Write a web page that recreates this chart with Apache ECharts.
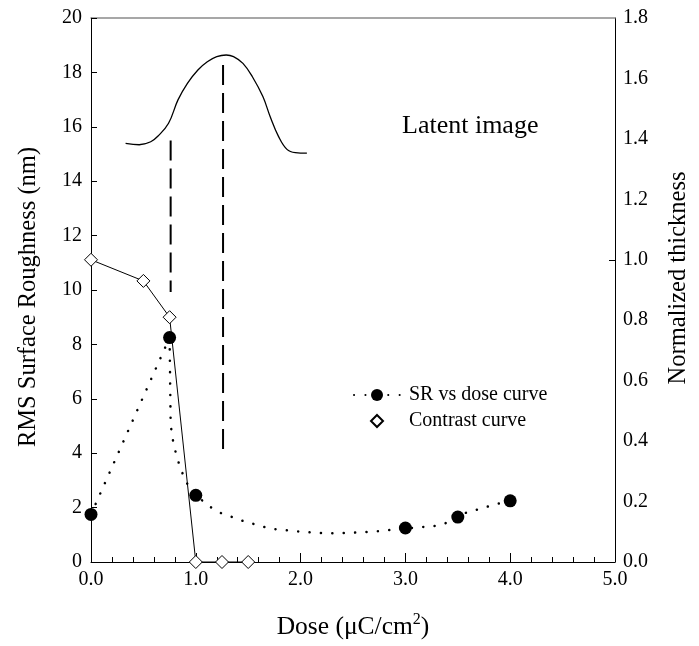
<!DOCTYPE html>
<html>
<head>
<meta charset="utf-8">
<script src="https://cdn.jsdelivr.net/npm/echarts@6/dist/echarts.min.js"></script>
<style>html,body{margin:0;padding:0;background:#fff}#c{width:699px;height:646px}</style>
</head>
<body>
<div id="c"></div>
<script>
// Measured surface roughness (left axis, nm)
var srDose = [0.0, 0.75, 1.0, 3.0, 3.5, 4.0];
var srValue = [1.75, 8.25, 2.45, 1.25, 1.65, 2.25];
// Dotted guide curve through SR data
var fitDose = [0.0, 0.75, 0.76, 0.77, 0.79, 0.82, 0.85, 0.89, 0.95, 1.0, 1.14, 1.24, 1.35, 1.45, 1.55, 1.65, 1.75, 1.85, 1.96, 2.06, 2.15, 2.25, 2.36, 2.46, 2.56, 2.66, 2.76, 2.86, 3.0, 3.06, 3.17, 3.27, 3.37, 3.5, 3.57, 3.67, 3.77, 3.87, 4.0];
var fitValue = [1.75, 8.25, 5.1, 4.74, 4.3, 3.86, 3.49, 3.09, 2.65, 2.45, 2.02, 1.80, 1.65, 1.51, 1.40, 1.29, 1.21, 1.17, 1.13, 1.10, 1.07, 1.06, 1.06, 1.07, 1.09, 1.11, 1.14, 1.18, 1.25, 1.25, 1.29, 1.32, 1.40, 1.65, 1.80, 1.91, 2.02, 2.13, 2.25];
// Contrast curve (right axis, normalized thickness)
var contrastDose = [0.0, 0.5, 0.75, 1.0, 1.25, 1.5];
var contrastThickness = [1.0, 0.93, 0.81, 0.0, 0.0, 0.0];
// Latent image profile (drawn in left-axis units)
var latentDose = [0.33, 0.46, 0.57, 0.64, 0.74, 0.83, 0.92, 1.02, 1.11, 1.20, 1.29, 1.36, 1.45, 1.54, 1.64, 1.71, 1.79, 1.87, 1.95, 2.06];
var latentValue = [15.39, 15.34, 15.45, 15.66, 16.13, 16.99, 17.6, 18.09, 18.39, 18.58, 18.64, 18.58, 18.33, 17.84, 17.11, 16.37, 15.64, 15.17, 15.05, 15.03];
// Dashed vertical markers
var dash1Dose = [0.76, 0.76];
var dash1Value = [15.5, 9.93];
var dash2Dose = [1.26, 1.26];
var dash2Value = [18.27, 4.06];
// Axis ticks
var xTicks = [0, 5, 1];
var yLeftTicks = [0, 20, 2];
var yRightTicks = [0, 1.8, 0.2];

function pairs(xs, ys) { return xs.map(function (x, i) { return [x, ys[i]]; }); }

var FONT = 'Liberation Serif';
var chart = echarts.init(document.getElementById('c'), null, { renderer: 'canvas' });
chart.setOption({
  animation: false,
  backgroundColor: '#fff',
  textStyle: { fontFamily: FONT, color: '#000' },
  grid: { left: 91, right: 71, top: 18, bottom: 84 },
  legend: {
    orient: 'vertical', left: 348, top: 380, itemWidth: 46, itemHeight: 15, itemGap: 6,
    selectedMode: false,
    textStyle: { fontFamily: FONT, fontSize: 20, color: '#000', padding: [0, 0, 0, 4] },
    data: [
      { name: 'SR vs dose curve' },
      { name: 'Contrast curve', lineStyle: { opacity: 0 } }
    ]
  },
  graphic: [{
    type: 'text', left: 402, top: 113,
    style: { text: 'Latent image', font: '26px "Liberation Serif"', fill: '#000' }
  }],
  xAxis: [{
    type: 'value', position: 'bottom', min: xTicks[0], max: xTicks[1], interval: xTicks[2],
    axisLine: { onZero: false, lineStyle: { color: '#000', width: 1 } },
    axisTick: { inside: true, length: 9, lineStyle: { color: '#000' } },
    minorTick: { show: true, splitNumber: 5, length: 5, lineStyle: { color: '#000' } },
    splitLine: { show: false }, minorSplitLine: { show: false },
    axisLabel: { formatter: function (v) { return v.toFixed(1); }, fontFamily: FONT, fontSize: 20, color: '#000', margin: 8 },
    name: 'Dose (μC/cm{sup|2})', nameLocation: 'middle', nameGap: 50,
    nameTextStyle: { fontFamily: FONT, fontSize: 25.5, color: '#000',
      rich: { sup: { fontFamily: FONT, fontSize: 16, color: '#000', padding: [0, 0, 15, 0] } } }
  }, {
    type: 'value', position: 'top', min: xTicks[0], max: xTicks[1],
    axisLine: { show: true, onZero: false, lineStyle: { color: '#8a8a8a', width: 1.5 } },
    axisTick: { show: false }, axisLabel: { show: false }, splitLine: { show: false }
  }],
  yAxis: [{
    type: 'value', position: 'left', min: yLeftTicks[0], max: yLeftTicks[1], interval: yLeftTicks[2],
    axisLine: { show: true, onZero: false, lineStyle: { color: '#000', width: 1 } },
    axisTick: { show: true, inside: true, length: 6, lineStyle: { color: '#000' } },
    splitLine: { show: false },
    axisLabel: { fontFamily: FONT, fontSize: 20, color: '#000', margin: 9 },
    name: 'RMS Surface Roughness (nm)', nameLocation: 'middle', nameGap: 50, nameRotate: 90,
    nameTextStyle: { fontFamily: FONT, fontSize: 24.5, color: '#000', padding: [0, 14, 0, 0] }
  }, {
    type: 'value', position: 'right', min: yRightTicks[0], max: yRightTicks[1], interval: yRightTicks[2],
    axisLine: { show: true, onZero: false, lineStyle: { color: '#000', width: 1 } },
    axisTick: { show: true, inside: true, length: 6, customValues: [1.0], lineStyle: { color: '#000' } },
    splitLine: { show: false },
    axisLabel: { formatter: function (v) { return v.toFixed(1); }, fontFamily: FONT, fontSize: 20, color: '#000', margin: 8 },
    name: 'Normalized thickness', nameLocation: 'middle', nameGap: 51, nameRotate: 90,
    nameTextStyle: { fontFamily: FONT, fontSize: 24.5, color: '#000', padding: [0, 0, 0, 24] }
  }],
  series: [
    {
      name: 'Latent image', type: 'line', xAxisIndex: 0, yAxisIndex: 0, silent: true,
      data: pairs(latentDose, latentValue), smooth: 0.4, symbol: 'none',
      lineStyle: { color: '#000', width: 1.3 }, z: 2
    },
    {
      name: 'marker1', type: 'line', silent: true, data: pairs(dash1Dose, dash1Value), symbol: 'none',
      lineStyle: { color: '#000', width: 2, type: [20, 8] }, z: 2
    },
    {
      name: 'marker2', type: 'line', silent: true, data: pairs(dash2Dose, dash2Value), symbol: 'none',
      lineStyle: { color: '#000', width: 2, type: [20, 8] }, z: 2
    },
    {
      name: 'SR vs dose curve', type: 'line', data: pairs(fitDose, fitValue),
      symbol: 'circle', showSymbol: false, color: '#000',
      itemStyle: { color: '#000' },
      lineStyle: { color: '#000', width: 2.5, type: [0.1, 11.3], cap: 'round' }, z: 3
    },
    {
      name: 'SR vs dose curve', type: 'scatter', data: pairs(srDose, srValue),
      symbol: 'circle', symbolSize: 13, itemStyle: { color: '#000', opacity: 1 }, z: 5
    },
    {
      name: 'Contrast curve', type: 'line', yAxisIndex: 1, data: pairs(contrastDose, contrastThickness),
      symbol: 'diamond', symbolSize: 13, showSymbol: true, color: '#000',
      itemStyle: { color: '#fff', borderColor: '#000', borderWidth: 1 },
      lineStyle: { color: '#000', width: 1 }, z: 4
    }
  ]
});
</script>
</body>
</html>
